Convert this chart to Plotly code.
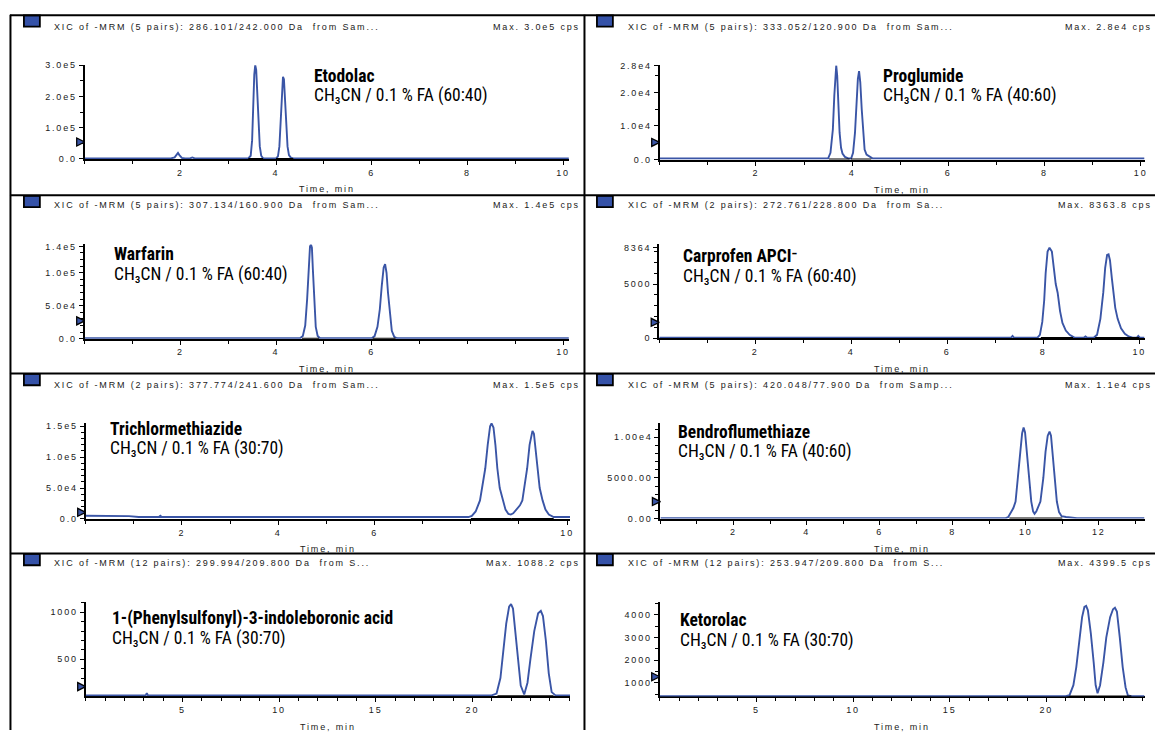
import plotly.graph_objects as go

# ---------------------------------------------------------------
# Extracted-ion chromatograms: retention time (min) vs. intensity (cps)
# ---------------------------------------------------------------
etodolac_time = [0.00, 1.80, 1.88, 1.92, 1.95, 1.98, 2.03, 2.10, 2.20, 2.25, 2.30,
                 3.42, 3.47, 3.50, 3.52, 3.545, 3.565, 3.585, 3.605, 3.63, 3.66, 3.69, 3.73,
                 4.00, 4.04, 4.07, 4.10, 4.125, 4.145, 4.165, 4.19, 4.21, 4.24, 4.27, 4.31, 4.36,
                 10.12]
etodolac_cps = [1500, 1500, 5000, 13000, 19000, 12000, 3000, 1500, 1500, 4500, 1500,
                1500, 10000, 60000, 160000, 270000, 300000, 285000, 220000, 120000, 40000, 10000, 1500,
                1500, 8000, 40000, 120000, 220000, 263000, 255000, 190000, 110000, 40000, 12000, 4000, 1500,
                1500]

proglumide_time = [0.00, 3.50, 3.55, 3.60, 3.63, 3.655, 3.67, 3.69, 3.71, 3.74, 3.77, 3.80, 3.85, 3.93,
                   3.98, 4.02, 4.06, 4.09, 4.12, 4.145, 4.17, 4.20, 4.23, 4.26, 4.30, 4.36, 4.43, 10.08]
proglumide_cps = [300, 300, 2000, 9000, 19000, 26000, 28000, 25000, 17000, 8000, 3500, 1800, 800, 300,
                  300, 2000, 8000, 16000, 24000, 26300, 23000, 15000, 7000, 3000, 1500, 900, 300, 300]

warfarin_time = [0.00, 4.50, 4.56, 4.61, 4.65, 4.68, 4.71, 4.73, 4.75, 4.77, 4.80, 4.83, 4.87, 4.92,
                 6.00, 6.06, 6.12, 6.17, 6.21, 6.25, 6.28, 6.31, 6.34, 6.38, 6.42, 6.47, 6.53, 10.12]
warfarin_cps = [700, 700, 4000, 20000, 60000, 110000, 140000, 143000, 138000, 105000, 55000, 18000, 4000, 700,
                700, 4000, 18000, 45000, 80000, 108000, 113000, 100000, 70000, 35000, 12000, 3000, 700, 700]

carprofen_time = [0.00, 7.33, 7.36, 7.39,
                  7.88, 7.93, 7.98, 8.02, 8.05, 8.09, 8.13, 8.18, 8.22, 8.26, 8.30, 8.35, 8.40, 8.47, 8.55, 8.65,
                  8.85, 8.88, 8.91,
                  9.05, 9.12, 9.19, 9.22, 9.25, 9.29, 9.33, 9.36, 9.39, 9.43, 9.46, 9.50, 9.55, 9.62, 9.70,
                  9.78, 9.86,
                  9.95, 9.98, 10.01, 10.11]
carprofen_cps = [45, 45, 200, 45,
                 45, 300, 1500, 3500, 6000, 8000, 8363.8, 8000, 6500, 5000, 4200, 2500, 1400, 700, 300, 45,
                 45, 150, 45,
                 45, 300, 1780, 3000, 4200, 6500, 7700, 7753, 7200, 5500, 4200, 2800, 1780, 900, 400,
                 150, 45,
                 45, 200, 45, 45]

trichlor_time = [0.00, 0.90, 1.10, 1.52, 1.55, 1.58, 7.90,
                 7.95, 8.02, 8.10, 8.19, 8.25, 8.30, 8.35, 8.40, 8.43, 8.47, 8.51, 8.55, 8.60, 8.66, 8.72, 8.78, 8.83,
                 8.88, 8.95, 9.02, 9.07, 9.12, 9.17, 9.22, 9.26, 9.28, 9.31, 9.35, 9.38, 9.43, 9.49, 9.55, 9.62, 9.72,
                 10.06]
trichlor_cps = [5000, 4500, 3000, 3000, 5000, 3000, 3000,
                3000, 5000, 12000, 30000, 55000, 82000, 120000, 150000, 154700, 148000, 120000, 82000, 50000,
                30000, 15000, 8000, 7000,
                9000, 15000, 22000, 30000, 55000, 82000, 120000, 140000, 142500, 138000, 110000, 82000, 50000,
                30000, 15000, 7000, 3000,
                3000]

bendro_time = [0.00, 9.45,
               9.52, 9.60, 9.66, 9.72, 9.79, 9.85, 9.90, 9.94, 9.98, 10.03, 10.09, 10.15, 10.20, 10.24,
               10.29, 10.35, 10.40, 10.48, 10.54, 10.60, 10.65, 10.69, 10.73, 10.78, 10.85, 10.91, 10.98,
               11.10, 11.30, 11.40, 13.25]
bendro_cps = [50, 50,
              200, 800, 1300, 2100, 5000, 8200, 10500, 11200, 10600, 8200, 5000, 2100, 900, 600,
              900, 1500, 2100, 5000, 8200, 10200, 10700, 10200, 8200, 5000, 2100, 800, 300,
              200, 100, 50, 50]

psib_time = [0.0, 3.10, 3.16, 3.22,
             21.00, 21.25, 21.45, 21.60, 21.75, 21.90, 22.00, 22.10, 22.20, 22.35, 22.50, 22.68,
             22.85, 23.00, 23.20, 23.40, 23.54, 23.65, 23.80, 23.95, 24.10, 24.30, 25.05]
psib_cps = [115, 115, 140, 115,
            115, 135, 300, 600, 880, 1060, 1088.2, 1040, 850, 500, 220, 125,
            250, 500, 800, 990, 1015, 960, 700, 350, 150, 115, 115]

ketorolac_time = [0.0, 21.00, 21.20, 21.40, 21.55, 21.70, 21.85, 21.97, 22.06, 22.15, 22.30, 22.45, 22.55, 22.65,
                  22.78, 22.95, 23.10, 23.30, 23.45, 23.55, 23.65, 23.80, 23.95, 24.10, 24.22, 24.40, 25.08]
ketorolac_cps = [420, 420, 460, 900, 1700, 2900, 3900, 4350, 4399.5, 4200, 3200, 1900, 900, 548,
                 900, 1900, 3000, 3900, 4250, 4317, 4150, 3000, 1700, 800, 450, 420, 420]

# integration windows (start, end) in min, drawn as the black peak baselines
etodolac_peaks = [(3.42, 3.73), (4.00, 4.36)]
proglumide_peaks = [(3.52, 3.95), (3.97, 4.40)]
warfarin_peaks = [(4.54, 4.90), (6.02, 6.50)]
carprofen_peaks = [(7.95, 8.62), (9.08, 10.00)]
trichlor_peaks = [(8.00, 8.85), (8.85, 9.72)]
bendro_peaks = [(9.55, 10.24), (10.24, 11.00)]
psib_peaks = [(21.30, 22.68), (22.68, 24.20)]
ketorolac_peaks = [(21.20, 22.65), (22.65, 24.40)]

# detection threshold level marked on each intensity axis
thresholds = [54000, 5100, 27000, 1460, 10700, 2100, 209, 1274]

compound_names = ["Etodolac", "Proglumide", "Warfarin", "Carprofen APCI\u207b",
                  "Trichlormethiazide", "Bendroflumethiaze",
                  "1-(Phenylsulfonyl)-3-indoleboronic acid", "Ketorolac"]
mobile_phase_ratios = ["60:40", "40:60", "60:40", "60:40", "30:70", "40:60", "30:70", "30:70"]
xic_headers = [
    "XIC of -MRM (5 pairs): 286.101/242.000 Da\u00a0 from Sam...",
    "XIC of -MRM (5 pairs): 333.052/120.900 Da\u00a0 from Sam...",
    "XIC of -MRM (5 pairs): 307.134/160.900 Da\u00a0 from Sam...",
    "XIC of -MRM (2 pairs): 272.761/228.800 Da\u00a0 from Sa...",
    "XIC of -MRM (2 pairs): 377.774/241.600 Da\u00a0 from Sam...",
    "XIC of -MRM (5 pairs): 420.048/77.900 Da\u00a0 from Samp...",
    "XIC of -MRM (12 pairs): 299.994/209.800 Da\u00a0 from S...",
    "XIC of -MRM (12 pairs): 253.947/209.800 Da\u00a0 from S...",
]
max_labels = ["Max. 3.0e5 cps", "Max. 2.8e4 cps", "Max. 1.4e5 cps", "Max. 8363.8 cps",
              "Max. 1.5e5 cps", "Max. 1.1e4 cps", "Max. 1088.2 cps", "Max. 4399.5 cps"]

# axis extents and ticks
x_max = [10.125, 10.08, 10.125, 10.11, 10.06, 13.25, 25.05, 25.08]
y_range = [(0, 3.0e5), (0, 28100), (0, 1.43e5), (0, 8665), (0, 1.56e5), (0, 11820), (107, 1105), (404, 4548)]
y_tickvals = [[0, 1e5, 2e5, 3e5], [0, 1e4, 2e4, 2.8e4], [0, 5e4, 1e5, 1.4e5], [0, 5000, 8364],
              [0, 5e4, 1e5, 1.5e5], [0, 5000, 1e4], [500, 1000], [1000, 2000, 3000, 4000]]
y_ticktext = [["0.0", "1.0e5", "2.0e5", "3.0e5"], ["0.0", "1.0e4", "2.0e4", "2.8e4"],
              ["0.0", "5.0e4", "1.0e5", "1.4e5"], ["0", "5000", "8364"],
              ["0.0", "5.0e4", "1.0e5", "1.5e5"], ["0.00", "5000.00", "1.00e4"],
              ["500", "1000"], ["1000", "2000", "3000", "4000"]]
y_minor_step = [5e4, 5000, 1e4, 1000, 1e4, 1000, 100, 500]
x_tickvals = [[2, 4, 6, 8, 10], [2, 4, 6, 8, 10], [2, 4, 6, 10], [2, 4, 6, 8, 10],
              [2, 4, 6, 10], [2, 4, 6, 8, 10, 12], [5, 10, 15, 20], [5, 10, 15, 20]]

series = [
    (etodolac_time, etodolac_cps, etodolac_peaks),
    (proglumide_time, proglumide_cps, proglumide_peaks),
    (warfarin_time, warfarin_cps, warfarin_peaks),
    (carprofen_time, carprofen_cps, carprofen_peaks),
    (trichlor_time, trichlor_cps, trichlor_peaks),
    (bendro_time, bendro_cps, bendro_peaks),
    (psib_time, psib_cps, psib_peaks),
    (ketorolac_time, ketorolac_cps, ketorolac_peaks),
]

# ---------------------------------------------------------------
# Page geometry (pixels)
# ---------------------------------------------------------------
W, H = 1159, 735
BLUE = "#3a55a6"
SMALL_FONT = "Liberation Sans, Arial, Helvetica, sans-serif"
LABEL_FONT = "Liberation Sans Narrow, Arial Narrow, Roboto Condensed, DejaVu Sans Condensed, sans-serif"

# plot-area boxes: left, right, top, bottom
BOXES = [
    (85, 571, 61, 156), (662, 1148.5, 61, 156.7),
    (85, 571, 242.7, 338.3), (661.5, 1148.5, 242.7, 337.7),
    (86, 572, 423.3, 521), (662.7, 1148.5, 423.3, 520.7),
    (86, 572, 605.7, 700.7), (662, 1148.5, 605.7, 701),
]
ROW_TOPS = [10, 193, 373.5, 556]
HEADER_Y = [22.3, 202.3, 385, 566]
LABEL_CAP_TOP = [67, 67, 248, 250, 425, 428, 617, 619]
LABEL_LEFT = [313, 884, 112, 683, 108.5, 678.5, 110, 680]
LINE_GAP = 20.5
COL_LEFT = 10.5
COL_MID = 586.5


def fx(px):
    return px / W


def fy(py):
    return 1 - py / H


def spaced(text, gap=1.85):
    return f'<span style="letter-spacing:{gap}px">{text}</span>'


fig = go.Figure()
layout = dict(
    width=W, height=H, margin=dict(l=0, r=0, t=0, b=0),
    paper_bgcolor="white", plot_bgcolor="white", showlegend=False,
    annotations=[], shapes=[],
)

small = dict(family=SMALL_FONT, size=9, color="#1a1a1a")
label_font = dict(family=LABEL_FONT, size=17.5, color="black")

for k, ((t, cps, peaks), box) in enumerate(zip(series, BOXES)):
    sfx = "" if k == 0 else str(k + 1)
    xa, ya = "x" + sfx, "y" + sfx
    left, right, top, bottom = box
    y0, y1 = y_range[k]

    # chromatogram trace
    fig.add_trace(go.Scatter(x=t, y=cps, xaxis=xa, yaxis=ya, mode="lines",
                             line=dict(color=BLUE, width=1.9), hoverinfo="skip"))

    # integration baselines under the peaks
    bx, by = [], []
    for s, e in peaks:
        bx += [s, e, None]
        by += [y0, y0, None]
    fig.add_trace(go.Scatter(x=bx, y=by, xaxis=xa, yaxis=ya, mode="lines",
                             line=dict(color="black", width=2), hoverinfo="skip"))

    # threshold marker: arrow tip on the intensity axis, body to the left
    fig.add_trace(go.Scatter(x=[0], y=[thresholds[k]], xaxis=xa, yaxis=ya,
                             mode="markers", cliponaxis=False, hoverinfo="skip",
                             marker=dict(symbol="arrow-right", size=8, color=BLUE,
                                         line=dict(color="black", width=1.3))))

    layout["xaxis" + sfx] = dict(
        domain=[fx(left), fx(right)], anchor=ya, range=[0, x_max[k]],
        showline=True, linecolor="black", linewidth=2, mirror=False,
        showgrid=False, zeroline=False, layer="below traces",
        tickmode="array", tickvals=x_tickvals[k],
        ticktext=[spaced(str(v)) for v in x_tickvals[k]],
        ticks="outside", ticklen=4, tickwidth=1.2, tickcolor="black",
        tickfont=small, fixedrange=True,
        minor=dict(tickmode="linear", tick0=0, dtick=1, ticks="outside",
                   ticklen=3, tickwidth=1.2, tickcolor="black"),
    )
    layout["yaxis" + sfx] = dict(
        domain=[fy(bottom), fy(top)], anchor=xa, range=[y0, y1],
        showline=True, linecolor="black", linewidth=2,
        showgrid=False, zeroline=False, layer="below traces",
        tickmode="array", tickvals=y_tickvals[k],
        ticktext=[spaced(s) for s in y_ticktext[k]],
        ticks="outside", ticklen=4, tickwidth=1.2, tickcolor="black",
        tickfont=small, fixedrange=True,
        minor=dict(tickmode="linear", tick0=0, dtick=y_minor_step[k], ticks="outside",
                   ticklen=3, tickwidth=1.2, tickcolor="black"),
    )

    row, col = divmod(k, 2)
    row_top = ROW_TOPS[row]

    # header bar: icon, XIC description, maximum
    sq_left = 24 if col == 0 else 599
    layout["shapes"].append(dict(type="rect", xref="paper", yref="paper",
                                 x0=fx(sq_left), x1=fx(sq_left + 16),
                                 y0=fy(row_top + 0.5), y1=fy(row_top + 12),
                                 fillcolor="#3552a8", line=dict(color="black", width=1.8)))
    layout["annotations"].append(dict(
        xref="paper", yref="paper", x=fx(52 if col == 0 else 628), y=fy(HEADER_Y[row]),
        xanchor="left", yanchor="middle", showarrow=False,
        text=spaced(xic_headers[k]), font=small))
    layout["annotations"].append(dict(
        xref="paper", yref="paper", x=fx(584 if col == 0 else 1158), y=fy(HEADER_Y[row]),
        xanchor="right", yanchor="middle", showarrow=False,
        text=spaced(max_labels[k]), font=small))

    # x-axis title
    layout["annotations"].append(dict(
        xref="paper", yref="paper", x=fx((left + right) / 2), y=fy(bottom + 31),
        xanchor="center", yanchor="middle", showarrow=False,
        text=spaced("Time, min"), font=small))

    # compound name (bold) and mobile phase, one line each
    cap_mid = LABEL_CAP_TOP[k] + 4.5
    layout["annotations"].append(dict(
        xref="paper", yref="paper", x=fx(LABEL_LEFT[k]), y=fy(cap_mid),
        xanchor="left", yanchor="middle", showarrow=False,
        text=f"<b>{compound_names[k]}</b>", font=label_font))
    layout["annotations"].append(dict(
        xref="paper", yref="paper", x=fx(LABEL_LEFT[k]), y=fy(cap_mid + LINE_GAP),
        xanchor="left", yanchor="middle", showarrow=False,
        text=f"CH\u2083CN / 0.1 % FA ({mobile_phase_ratios[k]})", font=label_font))

# panel frame lines
frame = [
    (10, 10.5, W, 10.5), (COL_LEFT, 10, COL_LEFT, H), (COL_MID, 10, COL_MID, H),
    (10, 193, W, 193), (10, 373.5, W, 373.5), (10, 556, W, 556),
]
for x0, y0, x1, y1 in frame:
    layout["shapes"].append(dict(type="line", xref="paper", yref="paper",
                                 x0=fx(x0), y0=fy(y0), x1=fx(x1), y1=fy(y1),
                                 line=dict(color="black", width=2)))

fig.update_layout(**layout)
fig.write_html("out.html")
